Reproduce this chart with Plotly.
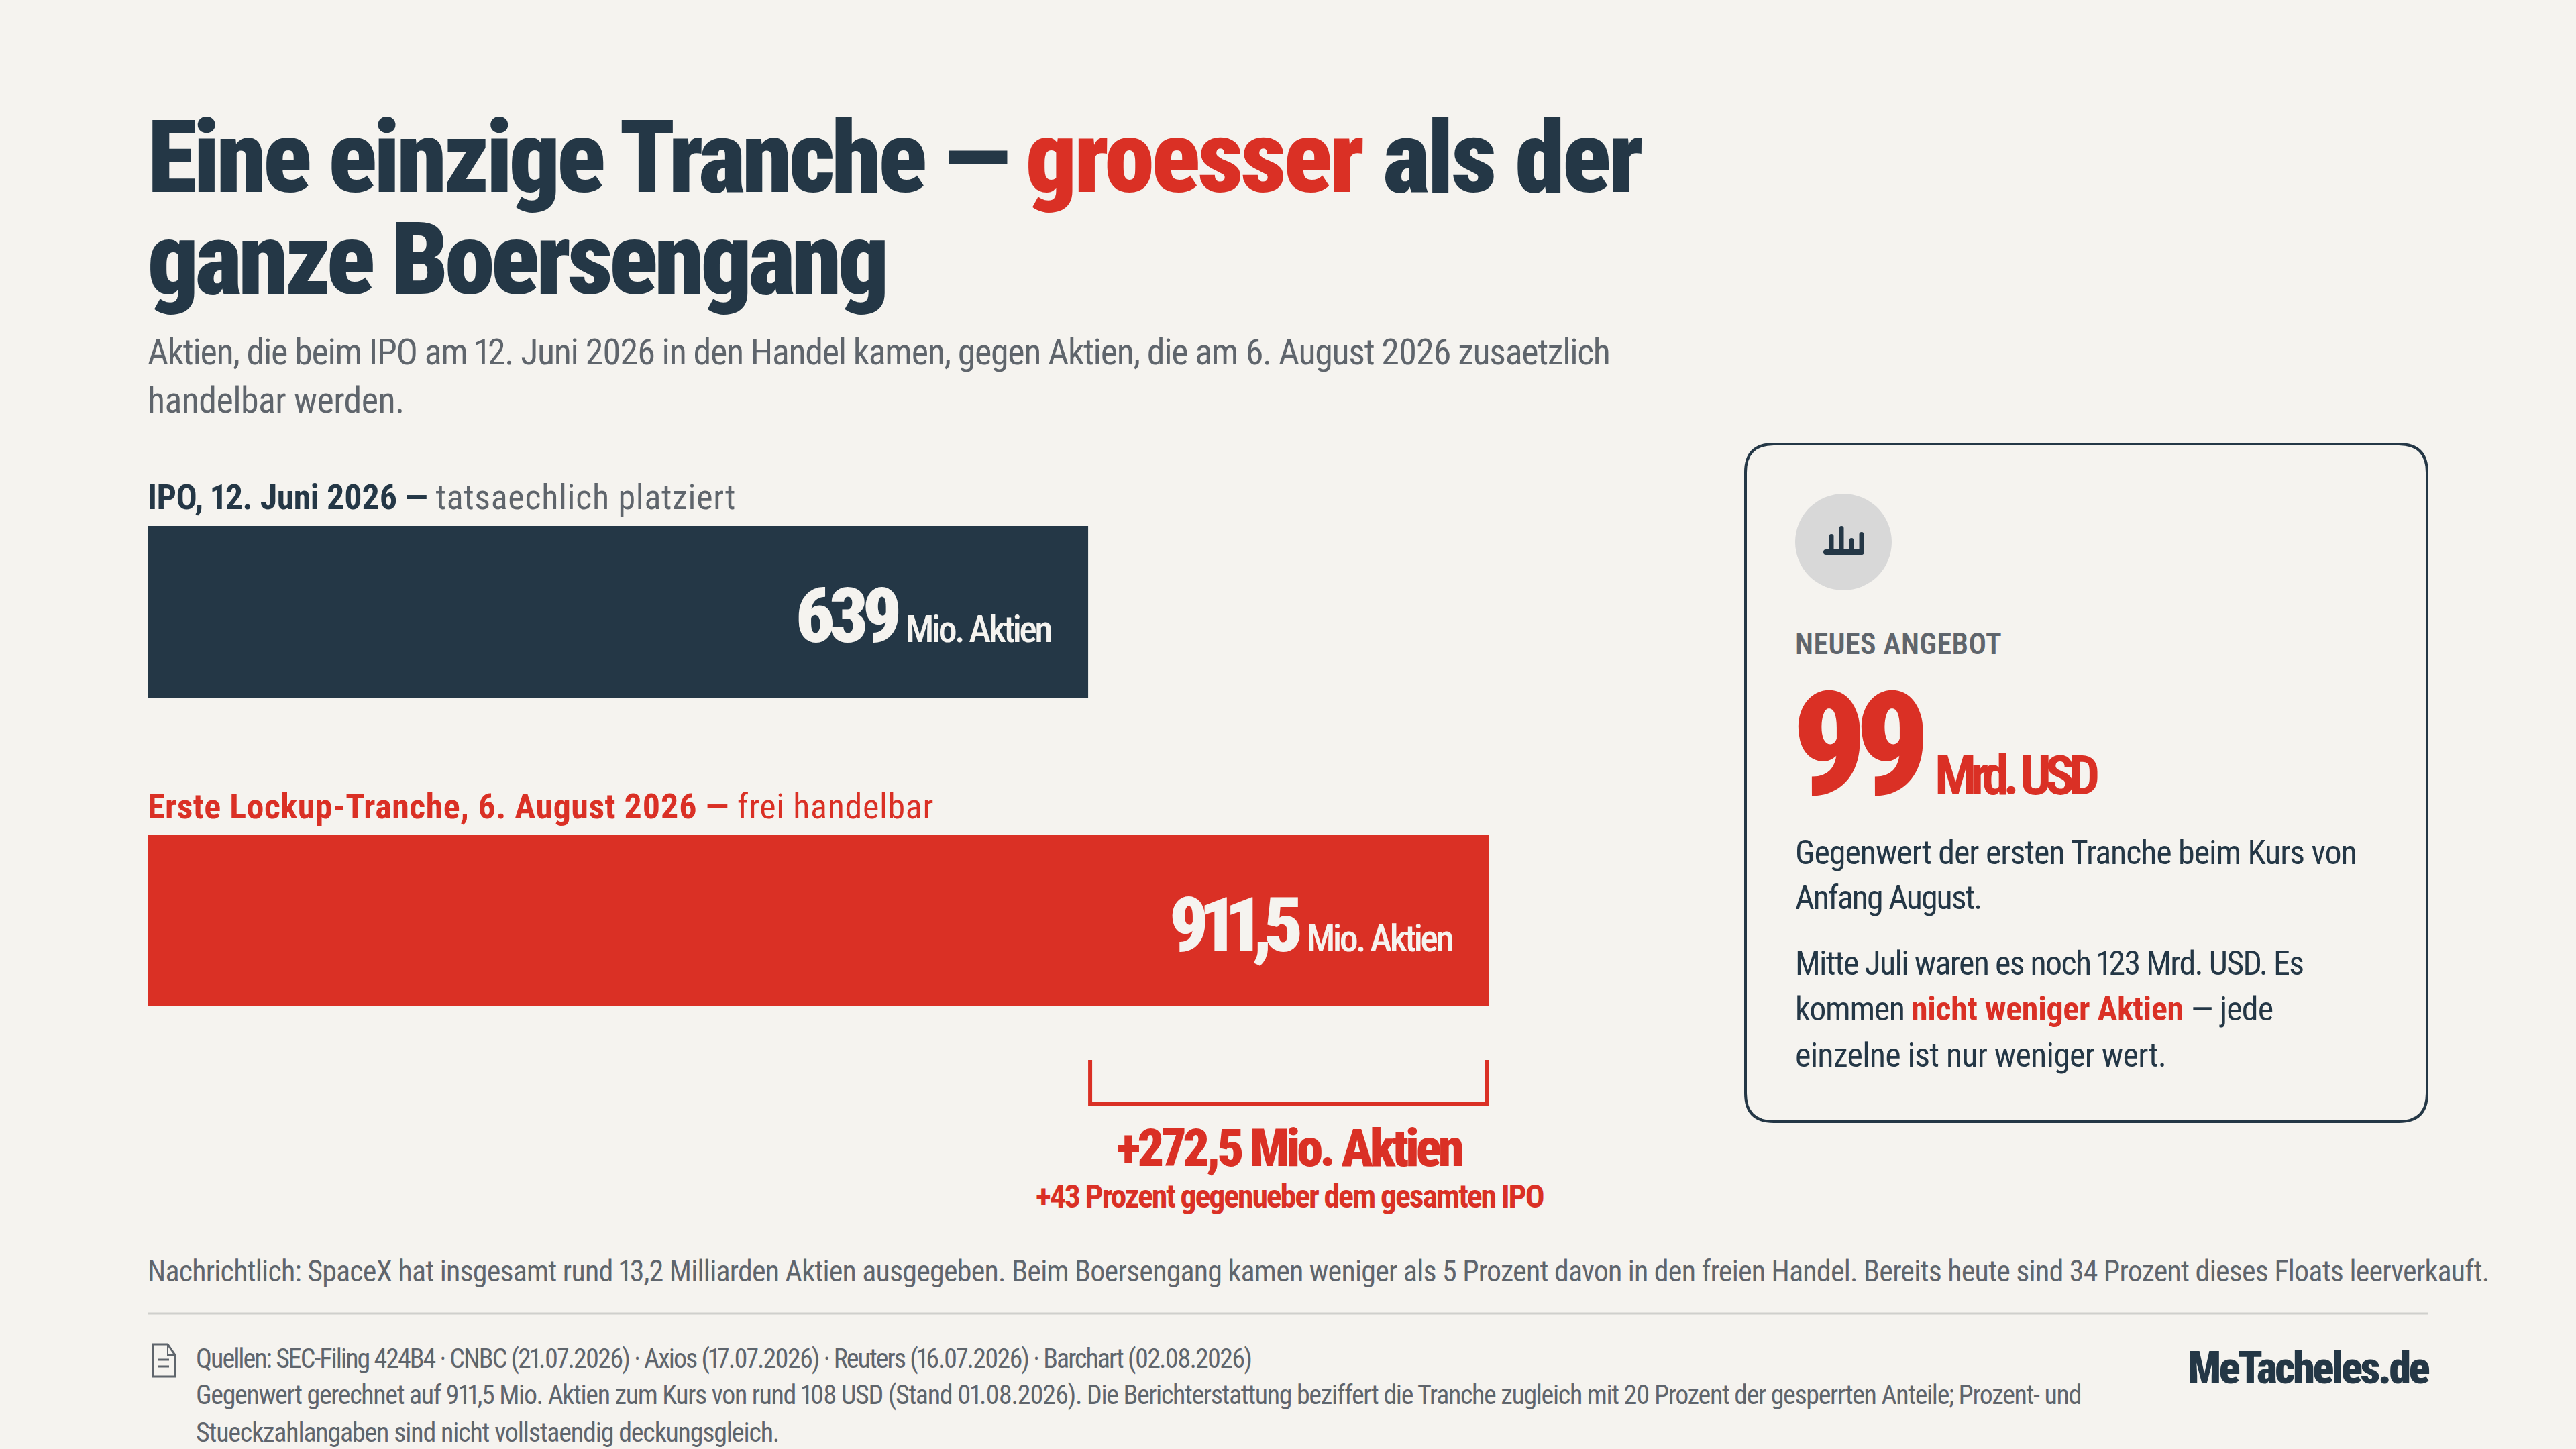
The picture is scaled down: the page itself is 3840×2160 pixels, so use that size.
#!/usr/bin/env python3
"""Lockup-Tranche gegen IPO: zwei Balken plus Infokarte, Layout in Pixeln."""

import plotly.graph_objects as go

W, H = 3840, 2160
BG = "#F5F3EF"
NAVY = "#243746"
RED = "#DA3025"
GREY = "#5F656C"
FONT = "Roboto Condensed, Roboto, sans-serif"
ASCENT = 0.927

categories = ["IPO", "Lockup"]
shares_mio = [639, 911.5]
bar_colors = [NAVY, RED]
value_labels = ["639", "911,5"]
delta_label = "+272,5 Mio. Aktien"
delta_pct_label = "+43 Prozent gegenueber dem gesamten IPO"

BAR_LEFT, BAR_RIGHT = 220, 2220
PX_PER_MIO = (BAR_RIGHT - BAR_LEFT) / shares_mio[1]


def px(x):
    return x / W


def py(y):
    return 1 - y / H


def span(text, color=NAVY, weight=400, spacing=0, size=None):
    # pnum: Barlow im Original hat schmale Einsen, Roboto sonst Tabellenziffern
    css = [f"fill:{color}", f"font-weight:{weight}", f"letter-spacing:{spacing}px",
           "font-feature-settings:'pnum'"]
    if size:
        css.append(f"font-size:{size}px")
    return f'<span style="{";".join(css)}">{text}</span>'


annotations = []


def label(x, base, html, size, anchor="left", xref="paper", xshift=0):
    # base = Grundlinie in Pixeln, size = groesste Schrift in der Zeile
    annotations.append(dict(
        x=px(x) if xref == "paper" else x,
        y=py(base - ASCENT * size),
        xref=xref, yref="paper",
        xanchor=anchor, yanchor="top", align=anchor,
        xshift=xshift,
        text=html, showarrow=False,
        borderpad=0, borderwidth=0,
        font=dict(family=FONT, size=size, color=NAVY),
    ))


def round_rect(x0, y0, x1, y1, r):
    rx, ry = r / W, r / H
    a, b, c, d = px(x0), py(y0), px(x1), py(y1)
    return (
        f"M{a + rx},{b} L{c - rx},{b} Q{c},{b} {c},{b - ry} "
        f"L{c},{d + ry} Q{c},{d} {c - rx},{d} "
        f"L{a + rx},{d} Q{a},{d} {a},{d + ry} "
        f"L{a},{b - ry} Q{a},{b} {a + rx},{b} Z"
    )


def poly(points, close=False):
    path = "M" + " L".join(f"{px(x)},{py(y)}" for x, y in points)
    return path + (" Z" if close else "")


shapes = []


def paper_path(path, fill=None, line=None, width=0):
    shapes.append(dict(
        type="path", xref="paper", yref="paper", path=path,
        fillcolor=fill or "rgba(0,0,0,0)",
        line=dict(color=line or "rgba(0,0,0,0)", width=width),
        layer="above",
    ))


# Kopf
label(220, 286,
      span("Eine einzige Tranche — ", NAVY, 900, -4.9)
      + span("groesser", RED, 900, -3.8)
      + span(" als der", NAVY, 900, -3.6), 150)
label(220, 438, span("ganze Boersengang", NAVY, 900, -5.3), 150)
label(220, 543, span("Aktien, die beim IPO am 12. Juni 2026 in den Handel kamen, gegen Aktien, "
                     "die am 6. August 2026 zusaetzlich", GREY, 400, -1.34), 54)
label(220, 615, span("handelbar werden.", GREY, 400, -0.6), 54)

# Balkenbeschriftung
label(220, 759, span("IPO, 12. Juni 2026 —", NAVY, 700, -0.5)
      + span(" tatsaechlich platziert", GREY, 400, 0.7), 52)
label(220, 1220, span("Erste Lockup-Tranche, 6. August 2026 —", RED, 700, 0.5)
      + span(" frei handelbar", RED, 400, 0.65), 52)
for value, text, base, tight in zip(shares_mio, value_labels, [957, 1418], [-8.5, -13]):
    label(value, base, span(text, BG, 900, tight), 114, anchor="right", xref="x", xshift=-282)
    label(value, base, span("Mio. Aktien", BG, 500, -3.6), 56, anchor="right", xref="x", xshift=-55)

# Klammer fuer die Differenz
inset = 3 / PX_PER_MIO
shapes.append(dict(
    type="path", xref="x", yref="paper",
    path=(f"M{shares_mio[0] + inset},{py(1580)} L{shares_mio[0] + inset},{py(1645)} "
          f"L{shares_mio[1] - inset},{py(1645)} L{shares_mio[1] - inset},{py(1580)}"),
    line=dict(color=RED, width=6), layer="above",
))
label(1922, 1738, span(delta_label, RED, 900, -4.7), 78, anchor="center")
label(1922, 1799, span(delta_pct_label, RED, 700, -2.2), 48, anchor="center")

# Karte
paper_path(round_rect(2602, 662, 3618, 1672, 42), line=NAVY, width=4)
shapes.append(dict(type="circle", xref="paper", yref="paper",
                   x0=px(2676), x1=px(2820), y0=py(880), y1=py(736),
                   fillcolor="#D8D8D8", line=dict(width=0), layer="above"))
paper_path(round_rect(2718, 819, 2778, 827, 4), fill=NAVY)
for cx, top in zip([2730, 2745, 2760, 2775], [796, 784, 802, 793]):
    paper_path(round_rect(cx - 3.5, top, cx + 3.5, 827, 3.5), fill=NAVY)

label(2676, 975, span("NEUES ANGEBOT", GREY, 600, 0.4), 44)
label(2672, 1184, span("99", RED, 900, -18), 215)
label(2884, 1184, span("Mrd. USD", RED, 700, -9), 82)
label(2676, 1288, span("Gegenwert der ersten Tranche beim Kurs von", NAVY, 400, -1.07), 50)
label(2676, 1355, span("Anfang August.", NAVY, 400, -2), 50)
label(2676, 1453, span("Mitte Juli waren es noch 123 Mrd. USD. Es", NAVY, 400, -1.7), 50)
label(2676, 1521, span("kommen ", NAVY, 400, -1.3) + span("nicht weniger Aktien", RED, 700, -0.3)
      + span(" — jede", NAVY, 400, -0.9), 50)
label(2676, 1590, span("einzelne ist nur weniger wert.", NAVY, 400, -0.8), 50)

# Fuss
label(220, 1910, span("Nachrichtlich: SpaceX hat insgesamt rund 13,2 Milliarden Aktien ausgegeben. "
                      "Beim Boersengang kamen weniger als 5 Prozent davon in den freien Handel. "
                      "Bereits heute sind 34 Prozent dieses Floats leerverkauft.", GREY, 400, -0.8), 44)
paper_path(poly([(220, 1958), (3620, 1958)]), line="#CFCFCC", width=3)

paper_path(poly([(228, 2004), (250, 2004), (261, 2020), (261, 2052), (228, 2052)], close=True),
           line=GREY, width=3)
paper_path(poly([(250, 2004), (250, 2020), (261, 2020)]), line=GREY, width=2)
paper_path(poly([(236, 2027), (252, 2027)]), line=GREY, width=3)
paper_path(poly([(236, 2037), (252, 2037)]), line=GREY, width=3)

label(292, 2039, span("Quellen: SEC-Filing 424B4 · CNBC (21.07.2026) · Axios (17.07.2026) · "
                      "Reuters (16.07.2026) · Barchart (02.08.2026)", GREY, 400, -2), 40)
label(292, 2093, span("Gegenwert gerechnet auf 911,5 Mio. Aktien zum Kurs von rund 108 USD (Stand 01.08.2026). "
                      "Die Berichterstattung beziffert die Tranche zugleich mit 20 Prozent der gesperrten Anteile; "
                      "Prozent- und", GREY, 400, -1.36), 40)
label(292, 2149, span("Stueckzahlangaben sind nicht vollstaendig deckungsgleich.", GREY, 400, -1.2), 40)
label(3622, 2062, span("MeTacheles.de", NAVY, 900, -3.4), 66, anchor="right")

fig = go.Figure(go.Bar(
    y=categories, x=shares_mio, orientation="h",
    marker=dict(color=bar_colors, line=dict(width=0)),
    width=256 / 460, hoverinfo="skip",
))
fig.update_layout(
    width=W, height=H,
    margin=dict(l=0, r=0, t=0, b=0),
    paper_bgcolor=BG, plot_bgcolor=BG,
    showlegend=False,
    annotations=annotations, shapes=shapes,
    xaxis=dict(domain=[px(BAR_LEFT), px(BAR_RIGHT)], range=[0, shares_mio[1]], visible=False, fixedrange=True),
    yaxis=dict(domain=[py(1602), py(682)], range=[1.5, -0.5], visible=False, fixedrange=True),
)
fig.write_html(
    "out.html",
    config={"displayModeBar": False},
    post_script=f"document.body.style.margin='0';document.body.style.background='{BG}';",
)
